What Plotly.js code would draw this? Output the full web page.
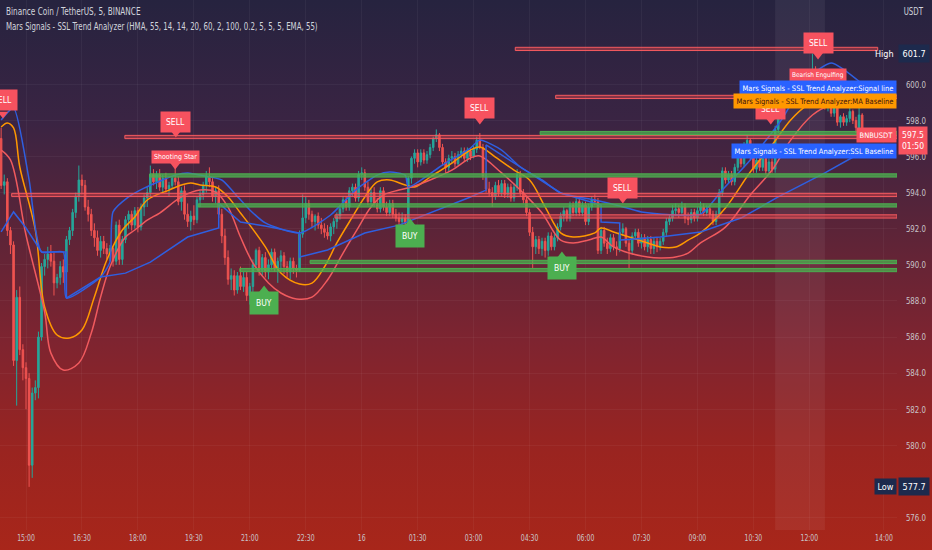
<!DOCTYPE html>
<html>
<head>
<meta charset="utf-8">
<script src="https://cdn.plot.ly/plotly-3.0.1.min.js"></script>
<style>
html,body{margin:0;padding:0;}
#chart{width:932px;height:550px;background:linear-gradient(to bottom,#26233f 0%,#3a2443 22%,#5c2438 42%,#7e2430 62%,#9a2420 82%,#a8261a 100%);}
</style>
</head>
<body>
<div id="chart"></div>
<script>
// ---------------- DATA ----------------
const startTime = "2021-05-15 14:20"; // first 5-minute candle
const open = [597.0,594.4,594.6,591.9,591.1,584.7,588.2,585.3,584.3,583.7,578.9,582.9,583.2,586.0,589.9,590.3,590.6,590.2,589.0,589.3,
589.9,589.6,591.4,591.9,592.9,593.8,594.7,594.4,593.2,592.8,591.9,591.5,590.8,591.3,590.9,590.6,590.9,590.2,592.2,590.3,
591.4,592.5,592.8,592.2,593.0,592.1,593.2,593.7,594.0,595.0,594.6,595.0,594.3,594.8,594.2,594.4,594.8,594.6,593.5,594.1,
592.8,592.4,592.7,592.5,593.6,593.9,594.4,594.9,594.6,593.8,594.1,592.8,591.6,590.4,589.2,589.4,588.6,589.4,588.8,589.3,
588.3,588.8,590.0,590.8,589.7,590.4,589.6,590.0,590.7,589.8,590.2,590.5,589.9,589.6,590.2,589.8,589.7,591.7,592.6,593.4,
592.8,592.4,592.7,592.2,592.0,591.8,591.6,592.1,592.4,592.7,593.1,593.6,593.2,594.1,594.3,593.7,595.0,595.1,594.3,593.5,
594.0,593.4,593.1,594.1,593.2,592.9,593.4,592.8,592.6,592.4,592.6,592.3,594.8,595.9,596.2,595.7,596.2,595.8,596.1,596.5,
597.0,597.2,596.5,595.7,595.4,595.9,596.0,595.6,596.1,596.3,595.9,596.3,596.0,596.4,596.9,596.5,594.9,594.2,594.0,593.8,
594.4,594.0,594.5,593.9,594.3,593.7,594.3,595.0,594.0,593.6,592.9,591.8,591.0,591.4,590.9,591.3,590.8,591.6,591.0,591.5,
592.1,592.7,593.0,592.6,593.3,592.9,593.5,592.9,593.3,592.4,593.2,593.6,593.5,590.8,591.9,591.2,590.9,591.5,591.0,590.9,
591.8,592.0,591.2,590.8,591.6,591.8,591.2,591.5,591.0,591.4,590.9,591.3,591.0,591.3,591.8,592.4,592.6,593.0,593.1,592.9,
593.2,592.6,592.5,592.9,592.6,593.0,593.2,592.9,593.1,592.8,592.4,592.8,594.0,595.2,594.7,595.0,594.6,595.4,596.0,595.6,
596.6,596.9,596.0,595.3,595.8,595.4,595.9,595.2,595.7,595.3,597.5,598.6,598.8,598.9,599.4,599.2,599.7,599.9,599.5,600.0,
599.8,600.5,600.8,599.9,598.9,599.2,598.8,599.2,598.4,598.7,597.9,598.2,597.9,598.1,598.5,598.0,597.6,598.3];
const high = [597.6,595.0,594.8,592.1,591.3,588.6,588.8,585.6,584.6,584.0,583.2,583.6,586.3,590.1,590.6,591.0,591.1,590.7,589.5,590.2,
590.3,591.6,592.1,593.1,594.0,595.5,595.0,594.7,593.6,593.1,592.3,591.9,591.6,591.6,591.2,591.1,591.0,592.4,592.5,591.6,
592.7,593.0,593.0,593.2,593.2,593.4,593.9,594.3,595.5,595.3,595.2,595.3,595.0,595.1,594.6,594.9,595.6,594.9,594.3,594.4,
593.4,593.0,593.3,593.8,594.1,594.6,595.2,595.4,594.8,594.3,594.4,593.1,592.0,590.8,589.8,589.7,589.6,589.9,589.6,589.6,
589.0,590.3,590.9,591.0,590.6,590.7,590.3,590.9,590.9,590.4,590.8,590.7,590.2,590.4,590.4,590.0,591.9,593.9,593.8,593.6,
593.0,592.8,592.9,592.6,592.3,592.2,592.3,592.6,592.9,593.3,593.8,593.8,594.3,594.5,594.5,595.2,595.4,595.3,594.6,594.2,
594.3,593.7,594.3,594.3,593.5,593.6,593.6,593.1,592.9,592.9,592.8,594.9,596.0,596.4,596.4,596.4,596.4,596.3,596.7,597.1,
597.5,597.3,596.7,595.9,596.1,596.3,596.2,596.3,596.5,596.5,596.5,596.5,596.6,597.1,597.3,596.7,595.2,594.6,594.3,594.6,
594.7,594.7,594.7,594.5,594.5,594.5,595.3,595.2,594.2,593.8,593.1,592.1,591.6,591.6,591.5,591.5,591.8,591.8,591.7,592.3,
592.9,593.2,593.1,593.5,593.5,593.7,593.7,593.5,593.5,593.4,593.8,593.9,593.7,592.1,592.1,591.5,591.7,591.7,591.3,592.0,
592.3,592.1,591.4,591.8,592.0,592.0,591.7,591.7,591.6,591.6,591.5,591.5,591.5,592.0,592.6,592.8,593.3,593.4,593.3,593.5,
593.4,592.9,593.1,593.1,593.2,593.5,593.4,593.3,593.3,593.0,593.0,594.2,595.4,595.4,595.2,595.2,595.6,596.2,596.2,596.8,
597.2,597.0,596.2,596.0,596.0,596.1,596.0,595.9,595.9,597.7,598.8,599.0,599.2,599.6,599.6,599.9,600.1,600.0,600.2,600.2,
600.8,601.7,601.0,600.0,599.4,599.4,599.4,599.3,598.9,598.8,598.3,598.4,598.3,598.7,598.6,598.2,598.7,598.4];
const low = [594.2,593.9,591.6,590.6,584.4,582.2,585.0,583.6,582.0,577.7,578.2,582.5,582.6,585.8,589.4,589.8,589.9,588.3,588.7,588.9,
589.0,589.4,591.1,591.6,592.6,593.5,593.9,593.0,592.4,591.6,591.0,590.5,590.4,590.6,590.3,590.2,589.9,590.0,590.0,590.0,
591.2,592.0,591.9,592.0,591.8,591.9,592.7,593.2,593.8,594.4,594.2,594.1,594.0,594.0,593.8,594.2,594.4,593.3,593.0,592.5,
592.1,591.9,592.2,592.3,593.2,593.6,594.0,594.3,593.5,593.4,592.6,591.2,590.0,588.9,588.6,588.3,588.4,588.6,588.5,588.0,
587.8,588.5,589.8,589.4,589.4,589.3,589.2,589.7,589.6,589.0,589.6,589.5,589.3,589.2,589.5,589.3,589.6,591.5,592.3,592.5,
592.1,591.9,592.0,591.7,591.5,591.4,591.3,591.7,592.0,592.5,592.9,593.0,593.0,593.8,593.5,593.5,594.7,594.1,593.3,593.2,
593.2,592.9,592.9,593.0,592.7,592.7,592.6,592.4,592.0,592.2,591.9,592.1,594.5,595.6,595.4,595.5,595.6,595.6,595.9,596.3,
596.8,596.3,595.5,595.1,595.2,595.6,595.4,595.5,595.9,595.7,595.7,595.8,595.9,596.2,596.4,594.7,594.0,593.8,593.2,593.6,
593.8,593.8,593.7,593.7,593.5,593.5,594.1,593.8,593.4,592.7,591.6,589.8,590.6,590.6,590.5,590.4,590.5,590.8,590.8,591.3,
591.9,592.4,592.4,592.4,592.7,592.7,592.7,592.7,592.2,592.2,593.0,593.3,590.6,590.6,591.0,590.6,590.7,590.8,590.5,590.7,
591.6,591.0,589.8,590.6,591.4,591.0,590.9,590.8,590.7,590.6,590.6,590.7,590.8,591.1,591.6,592.2,592.4,592.7,592.6,592.7,
592.3,592.2,592.3,592.4,592.4,592.8,592.7,592.7,592.6,592.2,592.2,592.6,593.8,594.5,594.5,594.4,594.4,595.2,595.4,595.4,
596.4,595.8,595.1,595.1,595.2,595.2,595.0,595.0,595.1,595.1,597.3,598.1,598.5,598.7,598.9,599.0,599.5,599.2,599.3,599.5,
599.6,600.2,599.7,598.7,598.7,598.6,598.5,598.2,598.2,597.7,597.6,597.7,597.7,597.9,597.8,597.3,597.5,597.4];
const close = [594.4,594.6,591.9,591.1,584.7,588.2,585.3,584.3,583.7,578.9,582.9,583.2,586.0,589.9,590.3,590.6,590.2,589.0,589.3,589.9,
589.6,591.4,591.9,592.9,593.8,594.7,594.4,593.2,592.8,591.9,591.5,590.8,591.3,590.9,590.6,590.9,590.2,592.2,590.3,591.4,
592.5,592.8,592.2,593.0,592.1,593.2,593.7,594.0,595.0,594.6,595.0,594.3,594.8,594.2,594.4,594.8,594.6,593.5,594.1,592.8,
592.4,592.7,592.5,593.6,593.9,594.4,594.9,594.6,593.8,594.1,592.8,591.6,590.4,589.2,589.4,588.6,589.4,588.8,589.3,588.3,
588.8,590.0,590.8,589.7,590.4,589.6,590.0,590.7,589.8,590.2,590.5,589.9,589.6,590.2,589.8,589.7,591.7,592.6,593.4,592.8,
592.4,592.7,592.2,592.0,591.8,591.6,592.1,592.4,592.7,593.1,593.6,593.2,594.1,594.3,593.7,595.0,595.1,594.3,593.5,594.0,
593.4,593.1,594.1,593.2,592.9,593.4,592.8,592.6,592.4,592.6,592.3,594.8,595.9,596.2,595.7,596.2,595.8,596.1,596.5,597.0,
597.2,596.5,595.7,595.4,595.9,596.0,595.6,596.1,596.3,595.9,596.3,596.0,596.4,596.9,596.5,594.9,594.2,594.0,593.8,594.4,
594.0,594.5,593.9,594.3,593.7,594.3,595.0,594.0,593.6,592.9,591.8,591.0,591.4,590.9,591.3,590.8,591.6,591.0,591.5,592.1,
592.7,593.0,592.6,593.3,592.9,593.5,592.9,593.3,592.4,593.2,593.6,593.5,590.8,591.9,591.2,590.9,591.5,591.0,590.9,591.8,
592.0,591.2,590.8,591.6,591.8,591.2,591.5,591.0,591.4,590.9,591.3,591.0,591.3,591.8,592.4,592.6,593.0,593.1,592.9,593.2,
592.6,592.5,592.9,592.6,593.0,593.2,592.9,593.1,592.8,592.4,592.8,594.0,595.2,594.7,595.0,594.6,595.4,596.0,595.6,596.6,
596.9,596.0,595.3,595.8,595.4,595.9,595.2,595.7,595.3,597.5,598.6,598.8,598.9,599.4,599.2,599.7,599.9,599.5,600.0,599.8,
600.5,600.8,599.9,598.9,599.2,598.8,599.2,598.4,598.7,597.9,598.2,597.9,598.1,598.5,598.0,597.6,598.3,597.5];

// indicator lines: candle index -> value
const maIdx = [0,2,4,6,11,14,18,22,26,30,34,39,43,47,54,58,61,64,69,73,77,80,85,90,96,100,104,108,113,117,121,125,130,133,138,145,151,154,159,165,170,175,180,184,191,193,197,202,208,212,217,221,225,233,241,248,254,259,265,272,277];
const maVal = [597.63,597.86,597.58,595.42,591.93,587.66,586.11,585.95,586.39,588.22,590.27,591.93,592.65,593.59,594.14,594.42,594.53,594.42,594.31,593.76,592.87,592.20,590.99,589.55,588.94,588.99,589.88,591.21,592.65,593.76,594.59,594.70,594.42,594.31,594.86,595.64,596.36,596.53,595.97,595.25,594.70,593.21,591.77,591.54,591.77,592.04,591.82,591.54,591.21,590.99,590.99,591.37,591.77,593.15,595.14,596.64,598.02,598.80,599.30,599.30,599.07];
const redIdx = [0,3,8,14,16,20,25,29,32,35,40,43,47,51,58,64,69,73,77,81,86,90,95,100,105,110,115,119,123,128,132,138,145,151,154,161,167,174,178,180,184,189,193,197,202,208,212,217,221,225,233,241,248,254,261,267,273,277];
const redVal = [596.36,595.81,591.65,587.38,585.11,584.17,584.56,586.22,588.21,589.88,591.54,591.93,592.48,592.87,593.76,594.14,594.03,593.20,591.54,590.10,588.99,588.44,588.11,588.21,589.16,590.65,592.09,593.20,593.87,594.14,594.31,594.70,595.25,595.92,596.03,595.09,594.14,592.87,591.77,591.37,591.21,591.37,591.54,590.99,590.65,590.43,590.38,590.43,590.65,591.21,592.09,593.87,595.25,596.91,598.30,598.85,598.96,598.91];
const sigIdx = [0,4,9,13,20,21,32,35,36,41,46,56,60,64,71,75,80,85,96,106,114,121,125,130,131,142,151,154,161,167,174,180,191,199,206,225,232,241,251,259,267,277];
const sigVal = [598.02,598.69,594.70,590.71,590.71,588.16,589.32,590.15,592.93,593.76,594.25,594.97,595.09,594.97,594.70,593.98,593.04,592.32,591.76,592.76,594.14,594.97,595.14,594.97,594.31,595.53,596.47,596.91,596.36,595.42,594.70,593.98,593.59,593.26,592.93,592.81,594.14,595.81,598.02,600.24,601.18,600.02];
const sslIdx = [0,4,8,13,21,21,32,40,48,60,70,70,77,85,96,96,105,117,128,138,151,156,156,167,180,193,193,199,199,212,225,238,250,265,277];
const sslVal = [591.82,592.93,592.04,590.71,590.71,588.16,589.32,589.54,590.15,591.54,592.04,593.42,592.37,592.15,591.76,590.43,590.82,591.76,592.20,592.87,593.76,594.14,596.64,595.42,593.98,593.31,592.37,592.32,591.37,591.54,591.82,592.59,593.76,595.09,596.25];

// support / resistance levels
const resPrice = [601.96,599.30,597.08,593.87,592.68];
const resStart = ["2021-05-16 04:07","2021-05-16 05:12","2021-05-15 17:39","2021-05-15 14:37","2021-05-15 23:17"];
const resEnd   = ["2021-05-16 13:50","2021-05-16 14:21","2021-05-16 14:21","2021-05-16 14:21","2021-05-16 14:21"];
const supPrice = [597.30,594.95,593.29,590.16,589.71];
const supStart = ["2021-05-16 04:47","2021-05-15 18:19","2021-05-15 19:37","2021-05-15 22:37","2021-05-15 20:44"];

// signal labels
const sellText  = ["SELL","SELL","Shooting Star","SELL","SELL","SELL","Bearish Engulfing","SELL"];
const sellTime  = ["2021-05-15 14:23","2021-05-15 19:01","2021-05-15 19:00","2021-05-16 03:10","2021-05-16 07:00","2021-05-16 12:14","2021-05-16 12:14","2021-05-16 10:58"];
const sellPrice = [599.13,597.91,595.97,598.71,594.28,602.29,600.54,598.63];
const sellTip   = [598.35,597.30,595.53,598.02,593.65,601.62,600.13,598.02];
const buyText  = ["BUY","BUY","BUY"];
const buyTime  = ["2021-05-15 21:23","2021-05-16 01:18","2021-05-16 05:22"];
const buyPrice = [587.86,591.62,589.82];
const buyTip   = [588.60,592.32,590.49];

const tickTimes = ["2021-05-15 15:00","2021-05-15 16:30","2021-05-15 18:00","2021-05-15 19:30","2021-05-15 21:00","2021-05-15 22:30","2021-05-16 00:00","2021-05-16 01:30","2021-05-16 03:00","2021-05-16 04:30","2021-05-16 06:00","2021-05-16 07:30","2021-05-16 09:00","2021-05-16 10:30","2021-05-16 12:00","2021-05-16 14:00"];
const tickLabels = ["15:00","16:30","18:00","19:30","21:00","22:30","16","01:30","03:00","04:30","06:00","07:30","09:00","10:30","12:00","14:00"];
const priceTicks = [576,580,582,584,586,588,590,592,594,596,598,600];

// ---------------- BUILD ----------------
function pad(n){return (n<10?"0":"")+n;}
const t0 = Date.parse(startTime.replace(" ","T")+":00Z");
function tStr(i){const d=new Date(t0+i*300000);return d.getUTCFullYear()+"-"+pad(d.getUTCMonth()+1)+"-"+pad(d.getUTCDate())+" "+pad(d.getUTCHours())+":"+pad(d.getUTCMinutes());}
const times = close.map((_,i)=>tStr(i));

const UP="#26a69a", DN="#ef5350", LBLRED="#f7525f", LBLGRN="#4caf50";
const traces = [];
traces.push({type:"scatter",mode:"lines",x:maIdx.map(tStr),y:maVal,line:{color:"#ff9800",width:1.5,shape:"spline",smoothing:1},hoverinfo:"skip"});
traces.push({type:"scatter",mode:"lines",x:redIdx.map(tStr),y:redVal,line:{color:"#f05a5e",width:1.5,shape:"spline",smoothing:1},hoverinfo:"skip"});
traces.push({type:"scatter",mode:"lines",x:sslIdx.map(tStr),y:sslVal,line:{color:"#2f5fe0",width:1.5},hoverinfo:"skip"});
traces.push({type:"scatter",mode:"lines",x:sigIdx.map(tStr),y:sigVal,line:{color:"#2f5fe0",width:1.5,shape:"spline",smoothing:0.6},hoverinfo:"skip"});
traces.push({type:"candlestick",x:times,open:open,high:high,low:low,close:close,
  increasing:{line:{color:UP,width:1},fillcolor:UP},decreasing:{line:{color:DN,width:1},fillcolor:DN},whiskerwidth:0,hoverinfo:"skip"});
traces.push({type:"scatter",mode:"markers",x:sellTime,y:sellTip,marker:{symbol:"triangle-down",size:9,color:LBLRED},hoverinfo:"skip",cliponaxis:false});
traces.push({type:"scatter",mode:"markers",x:buyTime,y:buyTip,marker:{symbol:"triangle-up",size:9,color:LBLGRN},hoverinfo:"skip",cliponaxis:false});

const shapes = [];
shapes.push({type:"rect",xref:"x",yref:"paper",x0:"2021-05-16 11:05",x1:"2021-05-16 12:25",y0:0,y1:1,fillcolor:"rgba(255,255,255,0.06)",line:{width:0},layer:"below"});
resPrice.forEach((p,k)=>shapes.push({type:"rect",xref:"x",yref:"y",x0:resStart[k],x1:resEnd[k],y0:p-0.09,y1:p+0.09,fillcolor:"rgba(230,70,75,0.45)",line:{color:"#f55a5f",width:1},layer:"above"}));
supPrice.forEach((p,k)=>shapes.push({type:"rect",xref:"x",yref:"y",x0:supStart[k],x1:"2021-05-16 14:21",y0:p-0.09,y1:p+0.09,fillcolor:"rgba(76,175,80,0.75)",line:{color:"#4caf50",width:1},layer:"above"}));

const F = "DejaVu Sans Condensed, Liberation Sans, sans-serif";
const ann = [];
const squeezeIdx = {}; // annotation index -> horizontal squeeze factor
const leftAlign = {};  // annotations whose left edge must stay fixed
sellText.forEach((s,k)=>{
  const small = s.length>4;
  ann.push({xref:"x",yref:"y",x:sellTime[k],y:sellPrice[k],text:s,showarrow:false,bgcolor:LBLRED,
    font:{family:F,size:small?(s.length>13?6.5:7):8.5,color:"#ffffff"},borderpad:small?2:5,xanchor:"center",yanchor:"middle"});
});
buyText.forEach((s,k)=>ann.push({xref:"x",yref:"y",x:buyTime[k],y:buyPrice[k],text:s,showarrow:false,bgcolor:LBLGRN,
    font:{family:F,size:8.5,color:"#ffffff"},borderpad:6,xanchor:"center",yanchor:"middle"}));
// header
squeezeIdx[ann.length]=0.74; leftAlign[ann.length]=true;
ann.push({xref:"paper",yref:"paper",x:0.005,y:1-12/530,xanchor:"left",yanchor:"middle",showarrow:false,text:"Binance Coin / TetherUS, 5, BINANCE",font:{family:F,size:11,color:"#d1d4dc"}});
squeezeIdx[ann.length]=0.71; leftAlign[ann.length]=true;
ann.push({xref:"paper",yref:"paper",x:0.005,y:1-27/530,xanchor:"left",yanchor:"middle",showarrow:false,text:"Mars Signals - SSL Trend Analyzer (HMA, 55, 14, 14, 20, 60, 2, 100, 0.2, 5, 5, 5, EMA, 55)",font:{family:F,size:11,color:"#d1d4dc"}});
squeezeIdx[ann.length]=0.78;
ann.push({xref:"paper",yref:"paper",x:913/897,y:1-12/530,xanchor:"center",yanchor:"middle",showarrow:false,text:"USDT",font:{family:F,size:10,color:"#d1d4dc"}});
// right side plot labels
ann.push({xref:"paper",yref:"y",x:1,y:599.80,xanchor:"right",yanchor:"middle",showarrow:false,text:"Mars Signals - SSL Trend Analyzer:Signal line",bgcolor:"#2962ff",font:{family:F,size:7.5,color:"#ffffff"},borderpad:2.5});
ann.push({xref:"paper",yref:"y",x:1,y:599.10,xanchor:"right",yanchor:"middle",showarrow:false,text:"Mars Signals - SSL Trend Analyzer:MA Baseline",bgcolor:"#ff9800",font:{family:F,size:7.5,color:"#3b1410"},borderpad:2.5});
ann.push({xref:"paper",yref:"y",x:1,y:596.28,xanchor:"right",yanchor:"middle",showarrow:false,text:"Mars Signals - SSL Trend Analyzer:SSL Baseline",bgcolor:"#2962ff",font:{family:F,size:7.5,color:"#ffffff"},borderpad:2.5});
ann.push({xref:"paper",yref:"y",x:1,y:597.17,xanchor:"right",yanchor:"middle",showarrow:false,text:"BNBUSDT",bgcolor:LBLRED,font:{family:F,size:7.5,color:"#ffffff"},borderpad:2.5});
ann.push({xref:"paper",yref:"y",x:1,y:601.70,xanchor:"right",yanchor:"middle",showarrow:false,text:"High",font:{family:F,size:9,color:"#ffffff"},borderpad:2});
ann.push({xref:"paper",yref:"y",x:1,y:577.70,xanchor:"right",yanchor:"middle",showarrow:false,text:"Low",bgcolor:"#1d2a4d",font:{family:F,size:9,color:"#ffffff"},borderpad:2.5});
// price axis boxes
ann.push({xref:"paper",yref:"y",x:1,y:601.70,xanchor:"left",yanchor:"middle",showarrow:false,text:"601.7",bgcolor:"#1d2a4d",font:{family:F,size:9,color:"#ffffff"},borderpad:3.5,xshift:1});
ann.push({xref:"paper",yref:"y",x:1,y:577.70,xanchor:"left",yanchor:"middle",showarrow:false,text:"577.7",bgcolor:"#1d2a4d",font:{family:F,size:9,color:"#ffffff"},borderpad:3.5,xshift:1});
ann.push({xref:"paper",yref:"y",x:1,y:596.89,xanchor:"left",yanchor:"middle",showarrow:false,text:"597.5<br>01:50",bgcolor:LBLRED,font:{family:F,size:8.5,color:"#ffffff"},borderpad:3,xshift:1});

const layout = {
  width:932,height:550,margin:{l:0,r:35,t:0,b:20},
  paper_bgcolor:"rgba(0,0,0,0)",plot_bgcolor:"rgba(0,0,0,0)",
  showlegend:false,hovermode:false,
  xaxis:{type:"date",range:["2021-05-15 14:18:11","2021-05-16 14:21"],rangeslider:{visible:false},
    tickvals:tickTimes,ticktext:tickLabels,tickfont:{family:F,size:9.5,color:"#c8c3c8"},
    showgrid:true,gridcolor:"rgba(255,255,255,0.045)",zeroline:false,showline:false,ticks:"",fixedrange:true},
  yaxis:{side:"right",range:[575.31,604.67],tickvals:priceTicks,ticktext:priceTicks.map(v=>v.toFixed(1)),
    tickfont:{family:F,size:9.5,color:"#c8c3c8"},showgrid:true,gridcolor:"rgba(255,255,255,0.045)",zeroline:false,showline:false,ticks:"outside",ticklen:6,tickcolor:"rgba(0,0,0,0)",fixedrange:true},
  shapes:shapes,annotations:ann
};
function squeeze(el,f,keepLeft){
  try{
    const L=el.getComputedTextLength(); if(!(L>0)) return;
    if(keepLeft){
      const anchor=el.getAttribute("text-anchor")||"start";
      let x=parseFloat(el.getAttribute("x"))||0;
      if(anchor==="middle") x-=L/2; else if(anchor==="end") x-=L;
      el.setAttribute("text-anchor","start"); el.setAttribute("x",x.toFixed(1));
    }
    el.setAttribute("textLength",(L*f).toFixed(1)); el.setAttribute("lengthAdjust","spacingAndGlyphs");
  }catch(e){}
}
Plotly.newPlot("chart",traces,layout,{staticPlot:true,displayModeBar:false}).then(gd=>{
  Object.keys(squeezeIdx).forEach(k=>{
    const t=gd.querySelector('.annotation[data-index="'+k+'"] text.annotation-text');
    if(t) squeeze(t,squeezeIdx[k],!!leftAlign[k]);
  });
  gd.querySelectorAll(".xtick text").forEach(t=>squeeze(t,0.72,false));
  gd.querySelectorAll(".ytick text").forEach(t=>squeeze(t,0.82,false));
});
</script>
</body>
</html>
